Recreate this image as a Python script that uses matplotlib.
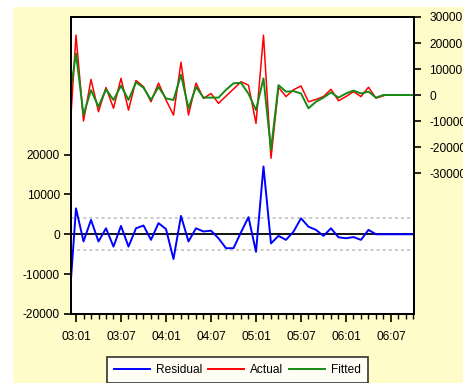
import numpy as np
import matplotlib
matplotlib.use("Agg")
import matplotlib.pyplot as plt
from matplotlib.patches import Rectangle
from matplotlib.lines import Line2D

plt.rcParams['font.family'] = ['Liberation Sans', 'DejaVu Sans']

# Monthly observations, index 0 = 2003:01 (first value is 2002:12)
months = list(range(-1, 46))

actual = [-23000, 23000, -10000, 6000, -6400, 2900, -5100, 6400, -5800, 5600, 3200,
          -2600, 4600, -1900, -7700, 12600, -7700, 4600, -1300, 600, -3200,
          -400, 2300, 5100, 3800, -10900, 23000, -24300, 3000, -600, 2000,
          3500, -2600, -1700, -600, 2200, -2200, -600, 1300, -600, 3000,
          -1200, -300, None, None, None, None]

fitted = [-4000, 16000, -7600, 1900, -4500, 2200, -1900, 3600, -1900, 4900, 2800,
          -1900, 3100, -1300, -1900, 7800, -5100, 3100, -1000, -1000, -1000,
          2000, 4500, 4700, 500, -5800, 6400, -21000, 3800, 1300, 1500,
          600, -5100, -2600, -1000, 1000, -1000, 600, 1700, 600, 1300,
          -1000, 0, 0, 0, 0, 0]

residual = [-20000, 6500, -1800, 3600, -1800, 1500, -3100, 2100, -3100, 1500, 2200,
            -1400, 2800, 1300, -6200, 4600, -1800, 1500, 700, 900, -1000,
            -3500, -3500, 500, 4300, -4400, 17000, -2300, -400, -1400, 650,
            4000, 1900, 1100, -400, 1500, -750, -1000, -700, -1400, 1100,
            0, 0, 0, 0, 0, 0]

resid_band = 4000

left_ticks = [-20000, -10000, 0, 10000, 20000]
left_labels = ["-20000", "-10000", "0", "10000", "20000"]
right_ticks = [-30000, -20000, -10000, 0, 10000, 20000, 30000]
right_labels = ["-30000", "-20000", "-10000", "0", "10000", "20000", "30000"]
date_ticks = [0, 6, 12, 18, 24, 30, 36, 42]
date_labels = ["03:01", "03:07", "04:01", "04:07", "05:01", "05:07", "06:01", "06:07"]

x = np.array(months, dtype=float)
act = np.array([np.nan if v is None else v for v in actual], dtype=float)
fit = np.array(fitted, dtype=float)
res = np.array(residual, dtype=float)

W, H = 464, 383
fig = plt.figure(figsize=(W / 100, H / 100), dpi=100)
fig.patch.set_facecolor("white")
fig.patches.append(Rectangle((13 / W, 0), 1 - 13 / W, 1 - 7 / H,
                             transform=fig.transFigure, facecolor="#FFFCC9",
                             edgecolor="none", zorder=-10))

L, R, T, B = 71, 414, 17, 314
ax1 = fig.add_axes([L / W, 1 - B / H, (R - L) / W, (B - T) / H])
ax1.set_facecolor("white")
ax2 = ax1.twinx()

fs = 8.6
# residual panel (left scale)
ax1.axhline(0, color="black", lw=1.3, zorder=2)
ax1.axhline(resid_band, color="#bdbdbd", lw=1.1, ls=(0, (2, 2)), zorder=1)
ax1.axhline(-resid_band, color="#bdbdbd", lw=1.1, ls=(0, (2, 2)), zorder=1)
ax1.plot(x, res, color="#0000FF", lw=1.4, zorder=3)
ax1.set_ylim(-20000, 54500)
ax1.set_yticks(left_ticks)
ax1.set_yticklabels(left_labels, fontsize=fs)

# actual vs fitted (right scale)
ax2.plot(x, act, color="#FF0000", lw=1.1)
ax2.plot(x, fit, color="#148A14", lw=1.4)
ax2.set_ylim(-84200, 30000)
ax2.set_yticks(right_ticks)
ax2.set_yticklabels(right_labels, fontsize=fs)

ax1.set_xlim(-0.667, 45.07)
ax1.set_xticks(date_ticks)
ax1.set_xticklabels(date_labels, fontsize=fs)
ax1.set_xticks(range(0, 46), minor=True)

for ax in (ax1, ax2):
    for s in ax.spines.values():
        s.set_linewidth(1.4)
        s.set_color("black")
ax1.tick_params(axis="y", direction="out", length=5, width=1.2, pad=3)
ax2.tick_params(axis="y", direction="out", length=5, width=1.2, pad=6)
ax1.tick_params(axis="x", which="major", direction="out", length=6, width=1.2, pad=6)
ax1.tick_params(axis="x", which="minor", direction="out", length=3.5, width=1.0)

handles = [Line2D([], [], color="#0000FF", lw=1.4),
           Line2D([], [], color="#FF0000", lw=1.4),
           Line2D([], [], color="#148A14", lw=1.4)]
leg = fig.legend(handles, ["Residual", "Actual", "Fitted"], loc="upper left",
                 bbox_to_anchor=(107 / W, 1 - 357 / H), ncol=3, fontsize=fs,
                 frameon=True, fancybox=False, edgecolor="black",
                 handlelength=3.0, handletextpad=0.5, columnspacing=0.5,
                 borderpad=0.6, borderaxespad=0)
leg.get_frame().set_linewidth(1.2)
leg.get_frame().set_facecolor("white")

fig.savefig("out.png", dpi=100, facecolor=fig.get_facecolor())
